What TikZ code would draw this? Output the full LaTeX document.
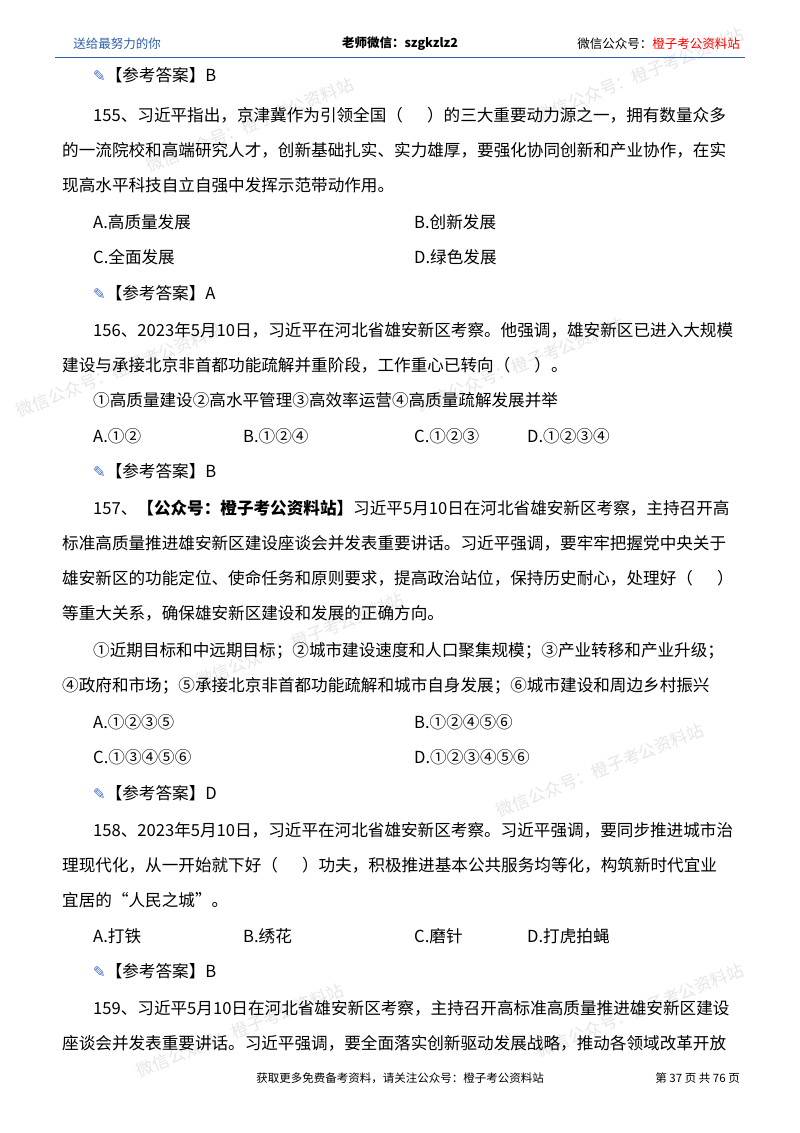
\documentclass[tikz,border=0pt]{standalone}
\usepackage{fontspec}
\setmainfont{Liberation Serif}
\newfontfamily\cjk{Noto Sans CJK SC}
\newfontfamily\dejav{DejaVu Sans}
\definecolor{hdrblue}{HTML}{2E5FA8}
\definecolor{ansblue}{HTML}{3A6FC4}
\definecolor{wmk}{HTML}{E6E6E6}
\begin{document}
\begin{tikzpicture}[x=1pt,y=1pt,
  body/.style={anchor=west,inner sep=0pt,font=\cjk\fontsize{16.6}{20}\selectfont},
  hdr/.style={anchor=center,inner sep=0pt,font=\cjk\fontsize{12.5}{15}\selectfont},
  wm/.style={inner sep=0pt,text=wmk,rotate=22,font=\cjk\fontsize{17}{20}\selectfont}]
\useasboundingbox (0,0) rectangle (800,-1133);
\fill[white] (0,0) rectangle (800,-1133);
% watermarks
\node[wm] (w1) at (640,-75) {微信公众号：橙子考公资料站};
\node[wm] (w2) at (250,-125) {微信公众号：橙子考公资料站};
\node[wm] (w3) at (520,-365) {微信公众号：橙子考公资料站};
\node[wm] (w4) at (120,-370) {微信公众号：橙子考公资料站};
\node[wm] (w5) at (300,-640) {微信公众号：橙子考公资料站};
\node[wm] (w6) at (600,-770) {微信公众号：橙子考公资料站};
\node[wm] (w7) at (240,-1030) {微信公众号：橙子考公资料站};
\node[wm] (w8) at (640,-1010) {微信公众号：橙子考公资料站};
% header
\node[hdr,text=hdrblue] (h1) at (117,-44) {送给最努力的你};
\node[hdr] (h2) at (400,-44) {\textbf{老师微信：szgkzlz2}};
\node[hdr,anchor=east] (h3) at (740,-44) {微信公众号：\textcolor{red}{橙子考公资料站}};
\draw[hdrblue,line width=0.8pt] (55,-57) -- (745,-57);
% footer
\node[hdr,font=\cjk\fontsize{11.5}{14}\selectfont] (f1) at (400,-1078) {获取更多免费备考资料，请关注公众号：橙子考公资料站};
\node[hdr,anchor=east,font=\cjk\fontsize{11.5}{14}\selectfont] (f2) at (740,-1078) {第 37 页 共 76 页};
% body
\newcommand{\ans}[1]{{\dejav\color{ansblue}\fontsize{15}{18}\selectfont ✎}【参考答案】#1}
\node[body] (l1) at (93,-75) {\ans{B}};
\node[body] (l2) at (93,-115) {155、习近平指出，京津冀作为引领全国（\quad\ \ ）的三大重要动力源之一，拥有数量众多};
\node[body] (l3) at (62,-150) {的一流院校和高端研究人才，创新基础扎实、实力雄厚，要强化协同创新和产业协作，在实};
\node[body] (l4) at (62,-185) {现高水平科技自立自强中发挥示范带动作用。};
\node[body] (l5a) at (93,-222) {A.高质量发展};
\node[body] (l5b) at (414,-222) {B.创新发展};
\node[body] (l6a) at (93,-257) {C.全面发展};
\node[body] (l6b) at (414,-257) {D.绿色发展};
\node[body] (l7) at (93,-293) {\ans{A}};
\node[body] (l8) at (93,-330) {156、2023年5月10日，习近平在河北省雄安新区考察。他强调，雄安新区已进入大规模};
\node[body] (l9) at (62,-365) {建设与承接北京非首都功能疏解并重阶段，工作重心已转向（\quad\ \ ）。};
\node[body] (l10) at (93,-400) {①高质量建设②高水平管理③高效率运营④高质量疏解发展并举};
\node[body] (l11a) at (93,-436) {A.①②};
\node[body] (l11b) at (243,-436) {B.①②④};
\node[body] (l11c) at (414,-436) {C.①②③};
\node[body] (l11d) at (527,-436) {D.①②③④};
\node[body] (l12) at (93,-471) {\ans{B}};
\node[body] (l13) at (93,-508) {157、\textbf{【公众号：橙子考公资料站】}习近平5月10日在河北省雄安新区考察，主持召开高};
\node[body] (l14) at (62,-543) {标准高质量推进雄安新区建设座谈会并发表重要讲话。习近平强调，要牢牢把握党中央关于};
\node[body] (l15) at (62,-578) {雄安新区的功能定位、使命任务和原则要求，提高政治站位，保持历史耐心，处理好（\quad\ \ ）};
\node[body] (l16) at (62,-613) {等重大关系，确保雄安新区建设和发展的正确方向。};
\node[body] (l17) at (93,-651) {①近期目标和中远期目标；②城市建设速度和人口聚集规模；③产业转移和产业升级；};
\node[body] (l18) at (62,-686) {④政府和市场；⑤承接北京非首都功能疏解和城市自身发展；⑥城市建设和周边乡村振兴};
\node[body] (l19a) at (93,-722) {A.①②③⑤};
\node[body] (l19b) at (414,-722) {B.①②④⑤⑥};
\node[body] (l20a) at (93,-757) {C.①③④⑤⑥};
\node[body] (l20b) at (414,-757) {D.①②③④⑤⑥};
\node[body] (l21) at (93,-793) {\ans{D}};
\node[body] (l22) at (93,-830) {158、2023年5月10日，习近平在河北省雄安新区考察。习近平强调，要同步推进城市治};
\node[body] (l23) at (62,-865) {理现代化，从一开始就下好（\quad\ \ ）功夫，积极推进基本公共服务均等化，构筑新时代宜业};
\node[body] (l24) at (62,-900) {宜居的“人民之城”。};
\node[body] (l25a) at (93,-936) {A.打铁};
\node[body] (l25b) at (243,-936) {B.绣花};
\node[body] (l25c) at (414,-936) {C.磨针};
\node[body] (l25d) at (527,-936) {D.打虎拍蝇};
\node[body] (l26) at (93,-971) {\ans{B}};
\node[body] (l27) at (93,-1008) {159、习近平5月10日在河北省雄安新区考察，主持召开高标准高质量推进雄安新区建设};
\node[body] (l28) at (62,-1043) {座谈会并发表重要讲话。习近平强调，要全面落实创新驱动发展战略，推动各领域改革开放};
\end{tikzpicture}
\end{document}
